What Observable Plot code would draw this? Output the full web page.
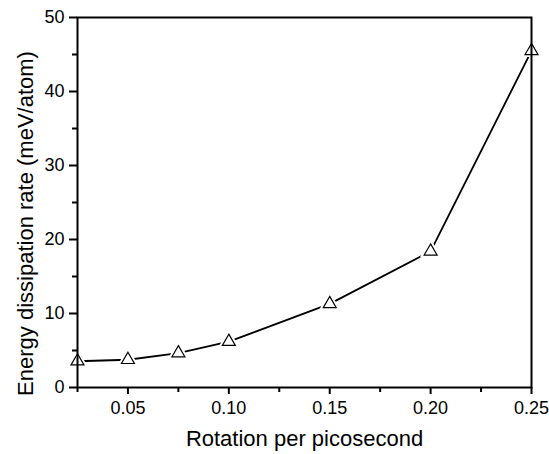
<!DOCTYPE html>
<html>
<head>
<meta charset="utf-8">
<script src="https://cdn.jsdelivr.net/npm/d3@7"></script>
<script src="https://cdn.jsdelivr.net/npm/@observablehq/plot@0.6"></script>
<style>
  html, body { margin: 0; padding: 0; background: #fff; }
  #chart svg { display: block; }
</style>
</head>
<body>
<div id="chart"></div>
<script>
const rotation = [0.025, 0.05, 0.075, 0.10, 0.15, 0.20, 0.25];
const rate = [3.55, 3.75, 4.65, 6.2, 11.3, 18.4, 45.5];
const xMajor = [0.05, 0.10, 0.15, 0.20, 0.25];
const xMinor = [0.025, 0.075, 0.125, 0.175, 0.225];
const yMajor = [0, 10, 20, 30, 40, 50];
const yMinor = [5, 15, 25, 35, 45];
const xLabel = "Rotation per picosecond";
const yLabel = "Energy dissipation rate (meV/atom)";

const data = rotation.map((x, i) => ({x, y: rate[i]}));

const chart = Plot.plot({
  width: 549,
  height: 454,
  marginLeft: 77,
  marginRight: 18,
  marginTop: 17,
  marginBottom: 67,
  style: {fontFamily: "'Liberation Sans', Arial, sans-serif", fontSize: "18px", color: "#000", background: "#fff"},
  x: {domain: [0.025, 0.25]},
  y: {domain: [0, 50]},
  marks: [
    Plot.line(data, {x: "x", y: "y", stroke: "#000", strokeWidth: 1.8}),
    Plot.dot(data, {x: "x", y: "y", symbol: "triangle", r: 4.8, fill: "#fff", stroke: "#fff", strokeWidth: 5}),
    Plot.dot(data, {x: "x", y: "y", symbol: "triangle", r: 4.8, fill: "#fff", stroke: "#000", strokeWidth: 1.2}),
    Plot.axisY({ticks: yMinor, tickSize: 5, text: null, label: null, strokeWidth: 2}),
    Plot.axisY({ticks: yMajor, tickSize: 8, tickPadding: 5, tickFormat: d3.format("d"), label: null, strokeWidth: 2, fontSize: 18}),
    Plot.axisX({ticks: xMinor, tickSize: 5, text: null, label: null, strokeWidth: 2}),
    Plot.axisX({ticks: xMajor, tickSize: 7, tickPadding: 7, tickFormat: d3.format(".2f"), label: null, strokeWidth: 2, fontSize: 18}),
    Plot.frame({stroke: "#000", strokeWidth: 2}),
    Plot.text([yLabel], {text: d => d, frameAnchor: "left", textAnchor: "middle", lineAnchor: "middle", rotate: -90, dx: -52, dy: 21, fontSize: 22, fill: "#000"}),
    Plot.text([xLabel], {text: d => d, frameAnchor: "bottom", textAnchor: "middle", lineAnchor: "middle", dy: 51, fontSize: 22, fill: "#000"})
  ]
});
document.getElementById("chart").appendChild(chart);
</script>
</body>
</html>
